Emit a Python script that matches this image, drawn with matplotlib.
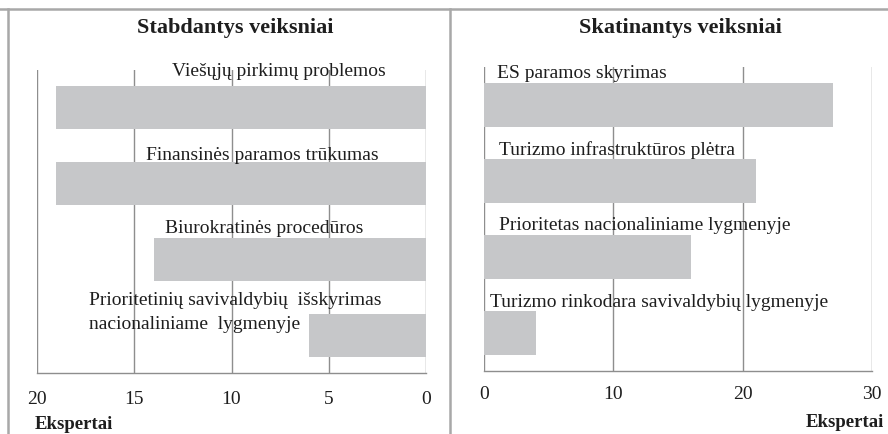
import matplotlib
matplotlib.use("Agg")
import matplotlib.pyplot as plt
from matplotlib.lines import Line2D

plt.rcParams['font.family'] = ['Liberation Serif', 'DejaVu Serif']

# Hindering factors (left panel)
left_title = "Stabdantys veiksniai"
left_labels = [
    "Viešųjų pirkimų problemos",
    "Finansinės paramos trūkumas",
    "Biurokratinės procedūros",
    "Prioritetinių savivaldybių  išskyrimas\nnacionaliniame  lygmenyje",
]
left_values = [19, 19, 14, 6]
left_ticks = [20, 15, 10, 5, 0]

# Encouraging factors (right panel)
right_title = "Skatinantys veiksniai"
right_labels = [
    "ES paramos skyrimas",
    "Turizmo infrastruktūros plėtra",
    "Prioritetas nacionaliniame lygmenyje",
    "Turizmo rinkodara savivaldybių lygmenyje",
]
right_values = [27, 21, 16, 4]
right_ticks = [0, 10, 20, 30]

axis_name = "Ekspertai"

BAR = "#c6c7c9"
GRID = "#8e8e8e"
FRAME = "#a8a8a8"
TEXT = "#1e1e1e"

W, H = 888, 435
fig = plt.figure(figsize=(W / 100, H / 100), dpi=100)


def px_rect(x0, y0, x1, y1):
    return [x0 / W, 1 - y1 / H, (x1 - x0) / W, (y1 - y0) / H]


def style_axis(ax, xlim, ticks, pad):
    ax.set_xlim(*xlim)
    ax.set_ylim(3.5, -0.5)
    ax.set_xticks(ticks)
    ax.set_xticklabels([str(t) for t in ticks], fontsize=14, color=TEXT)
    ax.set_yticks([])
    ax.tick_params(axis='x', length=0, pad=pad)
    for s in ("top", "left", "right"):
        ax.spines[s].set_visible(False)
    ax.spines["bottom"].set_color(GRID)
    ax.spines["bottom"].set_linewidth(1.0)
    for t in ticks:
        ax.axvline(t, color=GRID, lw=1.0, zorder=0)
    ax.set_facecolor("none")


# Left panel: reversed axis, bars grow leftwards from 0
axL = fig.add_axes(px_rect(37, 71, 426, 374))
style_axis(axL, (20, 0), left_ticks, 12.5)
axL.barh(range(len(left_values)), left_values, height=0.57, color=BAR, zorder=2)
left_label_pos = [(7.55, -0.49, 'center'), (8.4, 0.61, 'center'),
                  (8.3, 1.58, 'center'), (17.35, 2.69, 'left')]
for lab, (x, y, ha) in zip(left_labels, left_label_pos):
    axL.text(x, y, lab, ha=ha, va='center', fontsize=14, zorder=3,
             linespacing=1.55, color=TEXT)

# Right panel
axR = fig.add_axes(px_rect(484, 68, 872, 372))
style_axis(axR, (0, 30), right_ticks, 10)
axR.barh(range(len(right_values)), right_values, height=0.57, color=BAR, zorder=2)
right_label_pos = [(1.0, -0.43, 'left'), (1.15, 0.58, 'left'),
                   (1.15, 1.57, 'left'), (0.45, 2.59, 'left')]
for lab, (x, y, ha) in zip(right_labels, right_label_pos):
    axR.text(x, y, lab, ha=ha, va='center', fontsize=14, zorder=3, color=TEXT)

# Panel titles and axis names
fig.text(235 / W, 1 - 28 / H, left_title, ha='center', va='center',
         fontsize=16, fontweight='bold', color=TEXT)
fig.text(680 / W, 1 - 28 / H, right_title, ha='center', va='center',
         fontsize=16, fontweight='bold', color=TEXT)
fig.text(35 / W, 1 - 425 / H, axis_name, ha='left', va='center',
         fontsize=13.5, fontweight='bold', color=TEXT)
fig.text(884 / W, 1 - 423 / H, axis_name, ha='right', va='center',
         fontsize=13.5, fontweight='bold', color=TEXT)

# Outer frame lines
fig.add_artist(Line2D([0, 1], [1 - 10 / H, 1 - 10 / H], transform=fig.transFigure,
                      color=FRAME, lw=1.8))
fig.add_artist(Line2D([8 / W, 8 / W], [0, 1 - 10 / H], transform=fig.transFigure,
                      color=FRAME, lw=1.8))
fig.add_artist(Line2D([450 / W, 450 / W], [0, 1 - 10 / H], transform=fig.transFigure,
                      color=FRAME, lw=1.8))

fig.savefig("out.png", dpi=100, facecolor="white")
